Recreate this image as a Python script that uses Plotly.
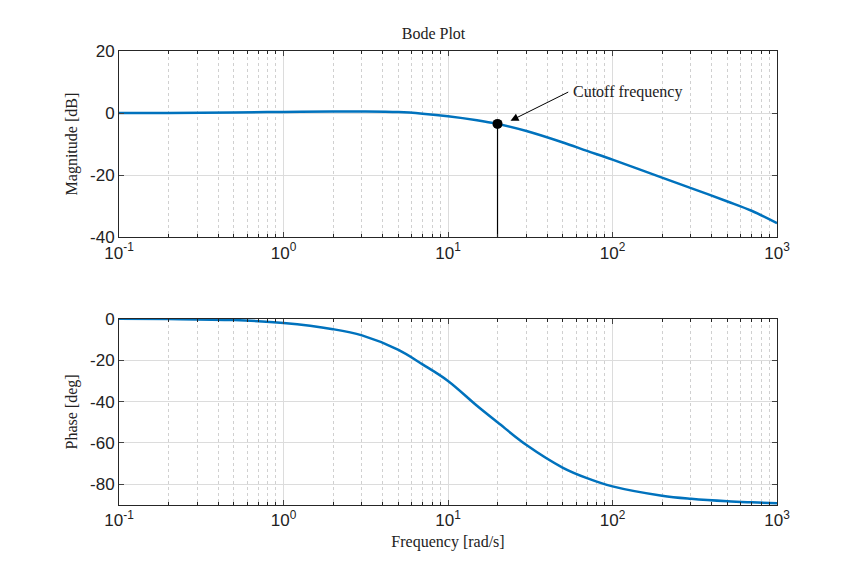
import plotly.graph_objects as go

# values
freq = [0.1, 0.2, 0.5, 1, 2, 3, 5, 7, 10, 15, 20, 30, 50, 70, 100, 200, 300, 500, 700, 1000]
mag_db = [0.0, 0.05, 0.2, 0.35, 0.5, 0.5, 0.3, -0.2, -1.0, -2.3, -3.5, -5.8, -9.5, -12.2, -15.0, -20.8, -24.2, -28.5, -31.5, -35.5]
phase_deg = [0.0, -0.1, -0.6, -2.0, -5.0, -8.0, -15.0, -22.0, -30.0, -42.0, -50.0, -61.0, -72.0, -77.0, -81.0, -85.5, -87.0, -88.2, -88.7, -89.1]
cutoff_f = 20
cutoff_db = -3.5

blue = "#0072BD"
tickvals = [0.1, 1, 10, 100, 1000]
ticktext = ["10<sup>-1</sup>", "10<sup>0</sup>", "10<sup>1</sup>", "10<sup>2</sup>", "10<sup>3</sup>"]
minor_vals = [m * d for d in [0.1, 1, 10, 100] for m in range(2, 10)]
serif = dict(family="Liberation Serif", size=16, color="#222")
sans = dict(family="Liberation Sans", size=17, color="#222")

fig = go.Figure()
fig.add_trace(go.Scatter(x=freq, y=mag_db, mode="lines", line=dict(color=blue, width=2.5, shape="spline"),
                         xaxis="x", yaxis="y"))
fig.add_trace(go.Scatter(x=[cutoff_f, cutoff_f], y=[-40, cutoff_db], mode="lines",
                         line=dict(color="black", width=1.2), xaxis="x", yaxis="y"))
fig.add_trace(go.Scatter(x=[cutoff_f], y=[cutoff_db], mode="markers",
                         marker=dict(color="black", size=10), xaxis="x", yaxis="y"))
fig.add_trace(go.Scatter(x=freq, y=phase_deg, mode="lines", line=dict(color=blue, width=2.5, shape="spline"),
                         xaxis="x2", yaxis="y2"))


def xax(**kw):
    d = dict(type="log", range=[-1, 3], tickvals=tickvals, ticktext=ticktext,
             showline=True, linecolor="#262626", mirror="ticks", ticks="inside", ticklen=5,
             showgrid=True, gridcolor="#dcdcdc", automargin=False,
             minor=dict(tickmode="array", tickvals=minor_vals, showgrid=True, gridcolor="#d0d0d0",
                        griddash="dot", ticks="inside", ticklen=3, tickcolor="#262626"),
             tickfont=sans, zeroline=False)
    d.update(kw)
    return d


def yax(vals, **kw):
    d = dict(showline=True, linecolor="#262626", mirror="ticks", ticks="inside", ticklen=5,
             showgrid=True, gridcolor="#dcdcdc", zeroline=False, automargin=False,
             tickvals=vals, ticktext=[str(v) for v in vals], tickfont=sans)
    d.update(kw)
    return d


fig.update_layout(
    width=851, height=567, showlegend=False,
    plot_bgcolor="white", paper_bgcolor="white",
    margin=dict(l=111, r=82, t=43, b=70),
    title=dict(text="Bode Plot", x=0.5, xanchor="center", y=0.965, font=serif),
    xaxis=xax(anchor="y"),
    yaxis=yax([-40, -20, 0, 20], domain=[0.59, 1], range=[-40, 20],
              title=dict(text="Magnitude [dB]", font=serif, standoff=8)),
    xaxis2=xax(anchor="y2", title=dict(text="Frequency [rad/s]", font=serif, standoff=6)),
    yaxis2=yax([-80, -60, -40, -20, 0], domain=[0, 0.41], range=[-90, 0],
               title=dict(text="Phase [deg]", font=serif, standoff=8)),
)
fig.add_annotation(x=1.342, y=cutoff_db, xref="x", yref="y", ax=1.74, ay=7.0, axref="x", ayref="y",
                   text="", showarrow=True, arrowhead=2, arrowsize=1.6, arrowwidth=1, arrowcolor="black",
                   standoff=7)
fig.add_annotation(x=1.75, y=6.8, xref="x", yref="y", text="Cutoff frequency", showarrow=False,
                   xanchor="left", font=dict(family="Liberation Serif", size=16, color="#222"))
fig.write_html("out.html")
